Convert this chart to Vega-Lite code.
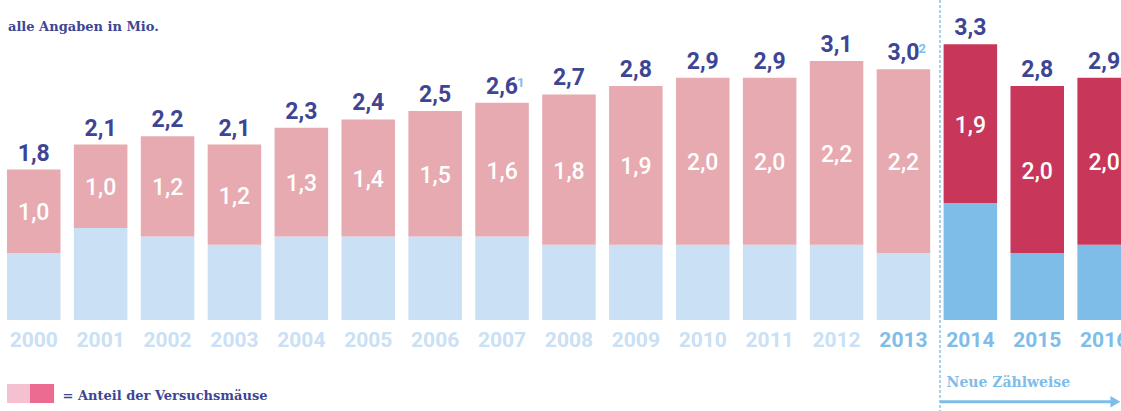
{
  "$schema": "https://vega.github.io/schema/vega-lite/v6.json",
  "width": 1121,
  "height": 411,
  "autosize": {"type": "none"},
  "padding": 0,
  "background": "white",
  "config": {
    "view": {"stroke": null},
    "locale": {"number": {"decimal": ",", "thousands": ".", "grouping": [3], "currency": ["", " €"]}}
  },
  "data": {
    "values": [
      {"year": 2000, "total": 1.8, "mice": 1.0, "other": 0.8},
      {"year": 2001, "total": 2.1, "mice": 1.0, "other": 1.1},
      {"year": 2002, "total": 2.2, "mice": 1.2, "other": 1.0},
      {"year": 2003, "total": 2.1, "mice": 1.2, "other": 0.9},
      {"year": 2004, "total": 2.3, "mice": 1.3, "other": 1.0},
      {"year": 2005, "total": 2.4, "mice": 1.4, "other": 1.0},
      {"year": 2006, "total": 2.5, "mice": 1.5, "other": 1.0},
      {"year": 2007, "total": 2.6, "mice": 1.6, "other": 1.0, "note": "1"},
      {"year": 2008, "total": 2.7, "mice": 1.8, "other": 0.9},
      {"year": 2009, "total": 2.8, "mice": 1.9, "other": 0.9},
      {"year": 2010, "total": 2.9, "mice": 2.0, "other": 0.9},
      {"year": 2011, "total": 2.9, "mice": 2.0, "other": 0.9},
      {"year": 2012, "total": 3.1, "mice": 2.2, "other": 0.9},
      {"year": 2013, "total": 3.0, "mice": 2.2, "other": 0.8, "note": "2"},
      {"year": 2014, "total": 3.3, "mice": 1.9, "other": 1.4},
      {"year": 2015, "total": 2.8, "mice": 2.0, "other": 0.8},
      {"year": 2016, "total": 2.9, "mice": 2.0, "other": 0.9}
    ]
  },
  "layer": [
    {
      "mark": {"type": "bar"},
      "encoding": {
        "x": {
          "field": "year", "type": "ordinal",
          "scale": {"range": [0.3, 1137.6], "paddingInner": 0.2, "paddingOuter": 0.1},
          "axis": {
            "title": null, "domain": false, "ticks": false, "tickSize": 0, "grid": false,
            "labelPadding": 0, "offset": -70.5, "labelBaseline": "middle", "labelAngle": 0,
            "labelFont": "Roboto", "labelFontSize": 21, "labelFontWeight": "bold", "labelOverlap": false,
            "labelColor": {"condition": {"test": "datum.value >= 2013", "value": "#7dbde8"}, "value": "#c9e0f5"}
          }
        },
        "y": {"field": "other", "type": "quantitative", "scale": {"domain": [-1.09, 3.83], "nice": false, "zero": false}, "axis": null},
        "color": {"condition": {"test": "datum.year >= 2014", "value": "#7dbde8"}, "value": "#c9e0f5"}
      }
    },
    {
      "mark": {"type": "bar"},
      "encoding": {
        "x": {"field": "year", "type": "ordinal"},
        "y": {"field": "other", "type": "quantitative", "axis": null},
        "y2": {"field": "total"},
        "color": {"condition": {"test": "datum.year >= 2014", "value": "#c8375a"}, "value": "#e6aab0"}
      }
    },
    {
      "mark": {"type": "text", "font": "Roboto", "fontSize": 23, "fontWeight": "bold", "color": "#3d4594", "baseline": "alphabetic", "dy": -9},
      "encoding": {
        "x": {"field": "year", "type": "ordinal"},
        "y": {"field": "total", "type": "quantitative", "axis": null},
        "text": {"field": "total", "type": "quantitative", "format": ".1f"}
      }
    },
    {
      "transform": [{"calculate": "datum.other + datum.mice / 2", "as": "mid"}],
      "mark": {"type": "text", "font": "Roboto", "fontSize": 23, "fontWeight": 500, "color": "white", "baseline": "middle", "dy": 2},
      "encoding": {
        "x": {"field": "year", "type": "ordinal"},
        "y": {"field": "mid", "type": "quantitative", "axis": null},
        "text": {"field": "mice", "type": "quantitative", "format": ".1f"}
      }
    },
    {
      "transform": [{"filter": "datum.note != null"}],
      "mark": {"type": "text", "font": "Roboto", "fontSize": 13, "fontWeight": "bold", "color": "#7fbde9", "baseline": "alphabetic", "align": "left", "dx": 15, "dy": -16},
      "encoding": {
        "x": {"field": "year", "type": "ordinal"},
        "y": {"field": "total", "type": "quantitative", "axis": null},
        "text": {"field": "note"}
      }
    },
    {
      "data": {"values": [{}]},
      "mark": {"type": "rule", "strokeDash": [3, 2], "strokeWidth": 2, "color": "#a9d2f1"},
      "encoding": {
        "x": {"datum": 2014, "type": "ordinal", "bandPosition": -0.067}
      }
    },
    {
      "data": {"values": [{}]},
      "mark": {"type": "rule", "strokeWidth": 3, "color": "#7fbde9"},
      "encoding": {
        "x": {"datum": 2014, "type": "ordinal", "bandPosition": -0.067},
        "x2": {"datum": 2016, "bandPosition": 0.7},
        "y": {"datum": -0.98, "type": "quantitative", "axis": null}
      }
    },
    {
      "data": {"values": [{}]},
      "mark": {"type": "point", "shape": "triangle-right", "filled": true, "size": 130, "opacity": 1, "color": "#7fbde9"},
      "encoding": {
        "x": {"datum": 2016, "type": "ordinal", "bandPosition": 0.71},
        "y": {"datum": -0.98, "type": "quantitative", "axis": null}
      }
    },
    {
      "data": {"values": [{}]},
      "mark": {"type": "text", "text": "Neue Zählweise", "font": "DejaVu Serif", "fontSize": 14, "fontWeight": "bold", "color": "#7fbde9", "align": "left", "baseline": "middle", "dx": 3},
      "encoding": {
        "x": {"datum": 2014, "type": "ordinal", "bandPosition": 0},
        "y": {"datum": -0.755, "type": "quantitative", "axis": null}
      }
    },
    {
      "data": {"values": [{}]},
      "mark": {"type": "text", "text": "alle Angaben in Mio.", "font": "DejaVu Serif", "fontSize": 13, "fontWeight": "bold", "color": "#3d4594", "align": "left", "baseline": "alphabetic", "dx": 1},
      "encoding": {
        "x": {"datum": 2000, "type": "ordinal", "bandPosition": 0},
        "y": {"datum": 3.459, "type": "quantitative", "axis": null}
      }
    },
    {
      "data": {"values": [{}]},
      "mark": {"type": "rect", "color": "#f5c0cf"},
      "encoding": {
        "x": {"datum": 2000, "type": "ordinal", "bandPosition": 0},
        "x2": {"datum": 2000, "bandPosition": 0.43},
        "y": {"datum": -0.767, "type": "quantitative", "axis": null},
        "y2": {"datum": -0.994}
      }
    },
    {
      "data": {"values": [{}]},
      "mark": {"type": "rect", "color": "#ec6b91"},
      "encoding": {
        "x": {"datum": 2000, "type": "ordinal", "bandPosition": 0.43},
        "x2": {"datum": 2000, "bandPosition": 0.88},
        "y": {"datum": -0.767, "type": "quantitative", "axis": null},
        "y2": {"datum": -0.994}
      }
    },
    {
      "data": {"values": [{}]},
      "mark": {"type": "text", "text": "= Anteil der Versuchsmäuse", "font": "DejaVu Serif", "fontSize": 13, "fontWeight": "bold", "color": "#3d4594", "align": "left", "baseline": "alphabetic", "dx": 2},
      "encoding": {
        "x": {"datum": 2000, "type": "ordinal", "bandPosition": 1},
        "y": {"datum": -0.958, "type": "quantitative", "axis": null}
      }
    }
  ]
}
